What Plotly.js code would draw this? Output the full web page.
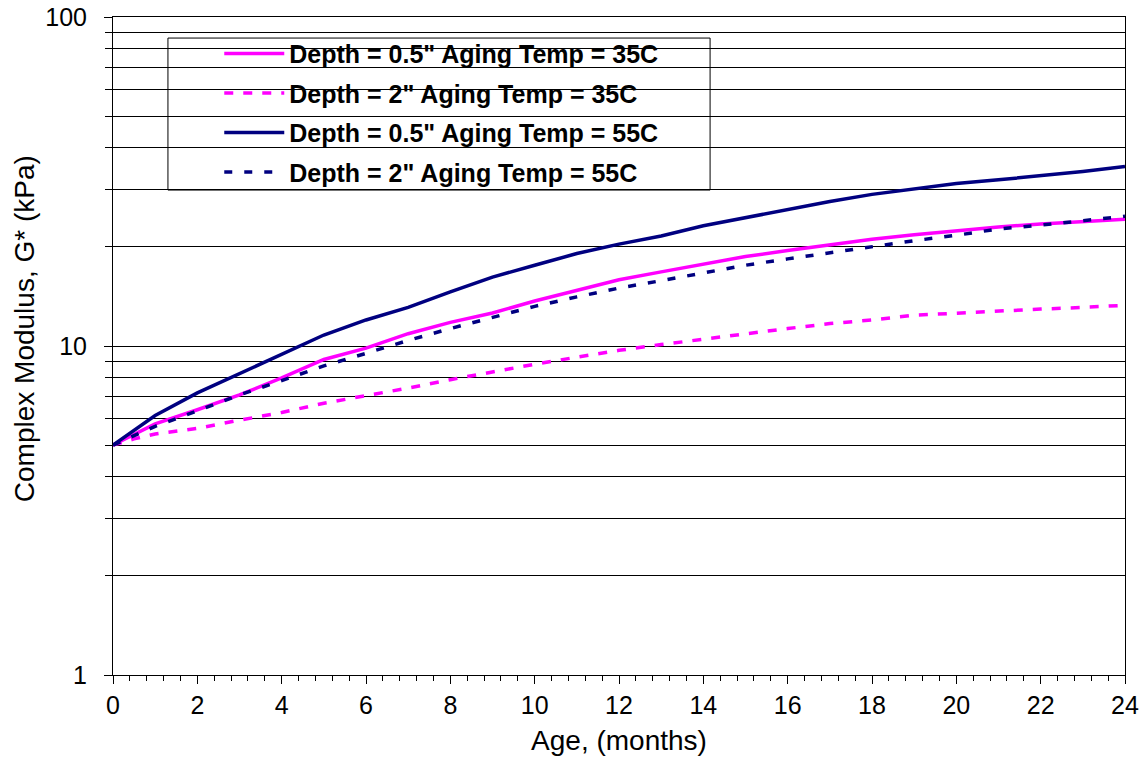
<!DOCTYPE html>
<html>
<head>
<meta charset="utf-8">
<script src="https://cdn.plot.ly/plotly-3.0.1.min.js"></script>
<style>html,body{margin:0;padding:0;background:#fff;}#chart{width:1146px;height:779px;}</style>
</head>
<body>
<div id="chart"></div>
<script>
// Age in months
const months = [0,0.5,1,2,3,4,5,6,7,8,9,10,11,12,13,14,15,16,17,18,19,20,21,22,23,24];
// Complex modulus G* (kPa)
const d05_35C = [5.0,5.4,5.8,6.4,7.1,8.0,9.1,9.85,10.9,11.8,12.6,13.7,14.8,15.9,16.8,17.7,18.7,19.5,20.3,21.1,21.8,22.4,23.0,23.5,23.9,24.3];
const d2_35C  = [5.0,5.22,5.4,5.62,5.95,6.28,6.7,7.05,7.45,7.9,8.35,8.8,9.25,9.7,10.1,10.5,10.9,11.3,11.7,12.0,12.4,12.6,12.8,12.95,13.1,13.3];
const d05_55C = [5.0,5.55,6.15,7.2,8.25,9.4,10.8,12.0,13.1,14.6,16.2,17.6,19.1,20.4,21.6,23.2,24.6,26.0,27.5,28.9,30.0,31.2,32.0,32.9,33.9,35.1];
const d2_55C  = [5.0,5.35,5.7,6.35,7.1,7.85,8.7,9.5,10.4,11.3,12.2,13.2,14.1,15.0,15.8,16.7,17.6,18.4,19.2,20.1,20.9,21.7,22.7,23.3,24.0,24.8];
const seriesNames = ['Depth = 0.5" Aging Temp = 35C','Depth = 2" Aging Temp = 35C','Depth = 0.5" Aging Temp = 55C','Depth = 2" Aging Temp = 55C'];
const xTicks = [0,2,4,6,8,10,12,14,16,18,20,22,24];
const yTicks = [1,10,100];
const yMinor = [2,3,4,5,6,7,8,9,20,30,40,50,60,70,80,90];
const xTitle = 'Age, (months)';
const yTitle = 'Complex Modulus, G* (kPa)';

const MAG = '#FF00FF', NAVY = '#000080';
const traces = [
  {x: months, y: d05_35C, name: seriesNames[0], legendgroup: 'a', mode: 'lines', line: {color: MAG, width: 3.5}},
  {x: months, y: d2_35C,  name: seriesNames[1], legendgroup: 'b', mode: 'lines', line: {color: MAG, width: 3.5, dash: '9px,10px'}},
  {x: months, y: d05_55C, name: seriesNames[2], legendgroup: 'c', mode: 'lines', line: {color: NAVY, width: 3.5}},
  {x: months, y: d2_55C,  name: seriesNames[3], legendgroup: 'd', mode: 'lines', line: {color: NAVY, width: 3.5, dash: '8px,12px'}}
];
const FONT = 'Liberation Sans, Arial, sans-serif';
const layout = {
  width: 1146, height: 779,
  margin: {l: 113, r: 21, t: 17, b: 104},
  paper_bgcolor: '#fff', plot_bgcolor: '#fff',
  font: {family: FONT, size: 24, color: '#000'},
  showlegend: true,
  legend: {
    x: 0.105, y: 0.979, xanchor: 'left', yanchor: 'top',
    bgcolor: 'rgba(0,0,0,0)', borderwidth: 0,
    font: {family: FONT, size: 25, color: '#000', weight: 'bold'},
    itemwidth: 60, tracegroupgap: 4
  },
  shapes: [{type: 'rect', xref: 'paper', yref: 'paper', x0: 0.0543, x1: 0.59, y0: 0.737, y1: 0.968,
            line: {color: '#000', width: 1}, fillcolor: '#fff', layer: 'below'}],
  annotations: [{
    text: yTitle, xref: 'paper', yref: 'paper', x: -0.088, y: 0.527,
    xanchor: 'center', yanchor: 'middle', textangle: -90, showarrow: false,
    font: {family: FONT, size: 28, color: '#000'}
  }],
  xaxis: {
    range: [0, 24], tickvals: xTicks, ticktext: xTicks.map(String),
    ticks: 'outside', ticklen: 8, tickwidth: 1, tickcolor: '#000',
    minor: {dtick: 0.4, tick0: 0, ticks: 'outside', ticklen: 5, tickcolor: '#000', showgrid: false},
    showgrid: false, zeroline: false, showline: true, linecolor: '#000', linewidth: 1, mirror: true,
    tickfont: {family: FONT, size: 25, color: '#000'},
    title: {text: xTitle, font: {family: FONT, size: 28, color: '#000'}, standoff: 12}
  },
  yaxis: {
    type: 'log', range: [0, 2], tickvals: yTicks, ticktext: yTicks.map(String),
    ticks: 'outside', ticklen: 8, tickwidth: 1, tickcolor: '#000',
    showgrid: true, gridcolor: '#000', gridwidth: 1,
    minor: {tickvals: yMinor, ticks: 'outside', ticklen: 7, tickcolor: '#000', showgrid: true, gridcolor: '#000', gridwidth: 1},
    zeroline: false, showline: true, linecolor: '#000', linewidth: 1, mirror: true,
    ticklabelstandoff: 12,
    tickfont: {family: FONT, size: 25, color: '#000'}
  }
};
Plotly.newPlot('chart', traces, layout, {displayModeBar: false, staticPlot: true});
</script>
</body>
</html>
